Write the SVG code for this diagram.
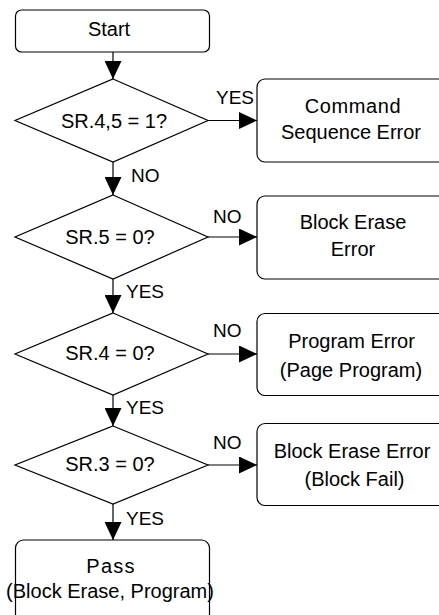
<svg xmlns="http://www.w3.org/2000/svg" width="439" height="615" viewBox="0 0 439 615">
<style>
.box{fill:#fff;stroke:#000;stroke-width:1.2}
.t{font-family:"Liberation Sans",Arial,sans-serif;font-size:20px;fill:#000;text-anchor:middle}
.l{font-family:"Liberation Sans",Arial,sans-serif;font-size:19px;fill:#000;text-anchor:start}
.c{stroke:#000;stroke-width:1.2;fill:none;marker-end:url(#ah)}
</style>
<defs>
<marker id="ah" markerUnits="userSpaceOnUse" markerWidth="18" markerHeight="17" refX="18" refY="8.5" orient="auto">
<path d="M0,0 L18,8.5 L0,17 z" fill="#000"/>
</marker>
</defs>
<rect width="439" height="615" fill="#fff"/>
<g id="connectors">
<line class="c" x1="113" y1="52" x2="113" y2="79"/>
<line class="c" x1="113" y1="162" x2="113" y2="195"/>
<line class="c" x1="113" y1="279" x2="113" y2="313"/>
<line class="c" x1="113" y1="395" x2="113" y2="426"/>
<line class="c" x1="113" y1="504" x2="113" y2="540"/>
<line class="c" x1="208" y1="120.5" x2="257" y2="120.5"/>
<line class="c" x1="208" y1="237" x2="257" y2="237"/>
<line class="c" x1="208" y1="354" x2="257" y2="354"/>
<line class="c" x1="208" y1="465" x2="257" y2="465"/>
<text class="l" x="216" y="104">YES</text>
<text class="l" x="131" y="182">NO</text>
<text class="l" x="213" y="223">NO</text>
<text class="l" x="126" y="298">YES</text>
<text class="l" x="213" y="337">NO</text>
<text class="l" x="126" y="414">YES</text>
<text class="l" x="213" y="449">NO</text>
<text class="l" x="126" y="525">YES</text>
</g>
<g id="start">
<rect class="box" x="15.5" y="10" width="194" height="42" rx="6"/>
<text class="t" x="109" y="36">Start</text>
</g>
<g id="d1">
<polygon class="box" points="113,79 208,120.5 113,162 15,120.5"/>
<text class="t" x="114" y="127.5">SR.4,5 = 1?</text>
</g>
<g id="e1">
<rect class="box" x="257" y="79" width="190" height="83" rx="8"/>
<text class="t" x="353" y="113" letter-spacing="0.6">Command</text>
<text class="t" x="351" y="139">Sequence Error</text>
</g>
<g id="d2">
<polygon class="box" points="113,195 208,237 113,279 15,237"/>
<text class="t" x="110" y="243.5">SR.5 = 0?</text>
</g>
<g id="e2">
<rect class="box" x="257" y="196" width="190" height="83" rx="8"/>
<text class="t" x="353" y="229">Block Erase</text>
<text class="t" x="353" y="256">Error</text>
</g>
<g id="d3">
<polygon class="box" points="113,313 208,354 113,395 15,354"/>
<text class="t" x="110" y="359.5">SR.4 = 0?</text>
</g>
<g id="e3">
<rect class="box" x="257" y="313.5" width="190" height="82" rx="8"/>
<text class="t" x="351.5" y="347.5">Program Error</text>
<text class="t" x="351" y="376.5">(Page Program)</text>
</g>
<g id="d4">
<polygon class="box" points="113,426 208,465 113,504 15,465"/>
<text class="t" x="110" y="471">SR.3 = 0?</text>
</g>
<g id="e4">
<rect class="box" x="257" y="423.5" width="190" height="82" rx="8"/>
<text class="t" x="352" y="457.5">Block Erase Error</text>
<text class="t" x="354.5" y="486">(Block Fail)</text>
</g>
<g id="pass">
<rect class="box" x="15.5" y="540" width="194" height="90" rx="8"/>
<text class="t" x="111" y="573" letter-spacing="1.2">Pass</text>
<text class="t" x="110" y="598" font-size="18">(Block Erase, Program)</text>
</g>
</svg>
